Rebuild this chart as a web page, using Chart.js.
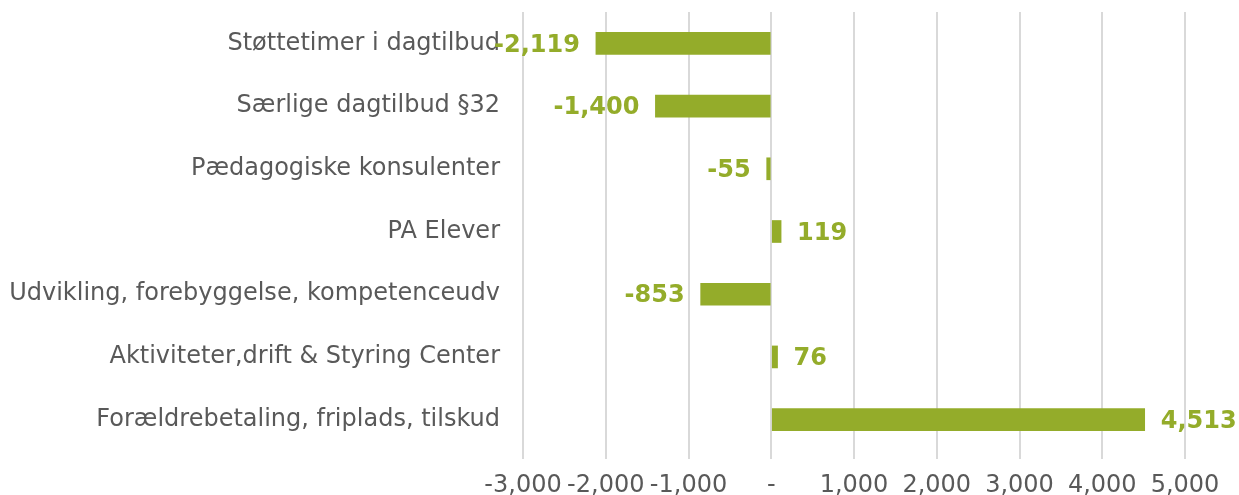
<!DOCTYPE html>
<html>
<head>
<meta charset="utf-8">
<title>Afvigelser</title>
<script src="https://cdn.jsdelivr.net/npm/chart.js@4"></script>
<style>
    html, body { margin: 0; padding: 0; background: #ffffff; }
    #wrap { width: 1239px; height: 495px; position: relative; }
</style>
</head>
<body>
<div id="wrap"><canvas id="afvigChart"></canvas></div>
<script>
// Kategorier (y-aksen)
const categories = [
    'Støttetimer i dagtilbud',
    'Særlige dagtilbud §32',
    'Pædagogiske konsulenter',
    'PA Elever',
    'Udvikling, forebyggelse, kompetenceudv',
    'Aktiviteter,drift & Styring Center',
    'Forældrebetaling, friplads, tilskud'
];

// Værdier for hver kategori
const values = [-2119, -1400, -55, 119, -853, 76, 4513];

// Aksegrænser og trin
const xMin = -3000;
const xMax = 5000;
const xStep = 1000;

const green = '#94ac2a';
const textGray = '#595959';
const fontName = 'Verdana, "DejaVu Sans", sans-serif';

// Tal formateret som i originalen (nul vises som "-")
function fmt(v) {
    if (v === 0) return '-';
    return v.toLocaleString('en-US');
}

// Plugin der tegner værdierne ved enden af hver søjle
const valueLabels = {
    id: 'valueLabels',
    afterDatasetsDraw(chart) {
        const ctx = chart.ctx;
        const meta = chart.getDatasetMeta(0);
        ctx.save();
        ctx.font = 'bold 24px ' + fontName;
        ctx.fillStyle = green;
        ctx.textBaseline = 'middle';
        meta.data.forEach((bar, i) => {
            const v = values[i];
            if (v < 0) {
                ctx.textAlign = 'right';
                ctx.fillText(fmt(v), bar.x - 16, bar.y + 2);
            } else {
                ctx.textAlign = 'left';
                ctx.fillText(fmt(v), bar.x + 16, bar.y + 2);
            }
        });
        ctx.restore();
    }
};

new Chart(document.getElementById('afvigChart'), {
    type: 'bar',
    data: {
        labels: categories,
        datasets: [{
            data: values,
            backgroundColor: green,
            borderWidth: 0,
            barThickness: 22
        }]
    },
    options: {
        indexAxis: 'y',
        responsive: true,
        maintainAspectRatio: false,
        animation: false,
        layout: { padding: { top: 12, right: 54, bottom: 0, left: 0 } },
        plugins: {
            legend: { display: false },
            tooltip: { enabled: false }
        },
        scales: {
            x: {
                min: xMin,
                max: xMax,
                ticks: {
                    stepSize: xStep,
                    color: textGray,
                    font: { family: fontName, size: 24 },
                    padding: 12,
                    maxRotation: 0,
                    autoSkip: false,
                    callback: (v) => fmt(v)
                },
                grid: {
                    color: '#d9d9d9',
                    lineWidth: 2,
                    drawTicks: true,
                    tickLength: 8
                },
                border: { display: false },
                afterFit(axis) {
                    axis.height = 44;
                    axis.paddingLeft = 0;
                    axis.paddingRight = 0;
                }
            },
            y: {
                ticks: {
                    color: textGray,
                    font: { family: fontName, size: 24 },
                    padding: 23,
                    autoSkip: false
                },
                grid: { display: false, drawTicks: false },
                border: { display: false },
                afterFit(axis) {
                    axis.width = 523;
                    axis.paddingTop = 0;
                    axis.paddingBottom = 0;
                }
            }
        }
    },
    plugins: [valueLabels]
});
</script>
</body>
</html>
